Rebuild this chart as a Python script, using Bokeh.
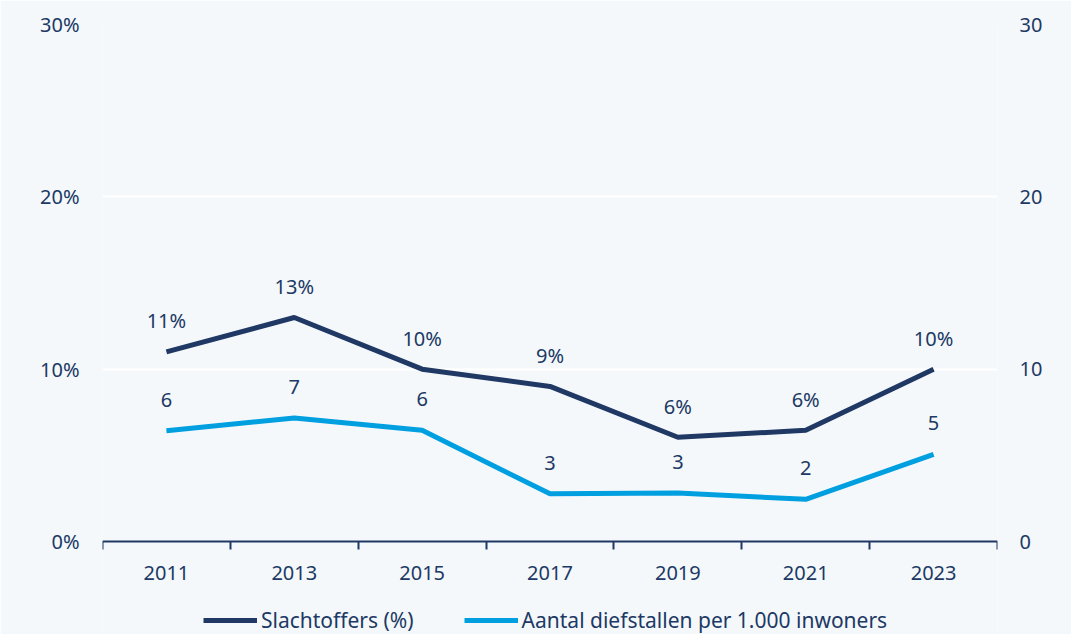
from bokeh.plotting import figure
from bokeh.models import (Range1d, LinearAxis, FixedTicker, Legend, LegendItem,
                          ColumnDataSource, PrintfTickFormatter)
from bokeh.core.properties import value
from bokeh.embed import file_html
from bokeh.resources import INLINE

years = ["2011", "2013", "2015", "2017", "2019", "2021", "2023"]
slachtoffers = [11.0, 13.0, 10.0, 9.0, 6.05, 6.45, 10.0]
diefstallen = [6.43, 7.17, 6.45, 2.77, 2.81, 2.45, 5.05]
y_ticks = [0, 10, 20, 30]

FONT = "Noto Sans"
NAVY = "#203864"
LIGHT = "#009fe0"
BG = "#f4f8fb"

# y range extends below zero to leave room for the legend inside the frame
Y_MIN = -93 / (517 / 30)

x = [i + 0.5 for i in range(len(years))]
src = ColumnDataSource(dict(
    x=x,
    s=slachtoffers,
    d=diefstallen,
    s_lab=[f"{round(v)}%" for v in slachtoffers],
    d_lab=[f"{round(v)}" for v in diefstallen],
))

p = figure(frame_width=895, frame_height=610, output_backend="svg", toolbar_location=None,
           x_range=Range1d(0, len(years)), y_range=Range1d(Y_MIN, 30),
           x_axis_location=None,
           min_border_left=102, min_border_right=74, min_border_top=24,
           min_border_bottom=0)
p.background_fill_color = BG
p.border_fill_color = BG
p.outline_line_color = None
p.extra_y_ranges = {"right": Range1d(Y_MIN, 30)}

# x axis at y=0: labels at centers, ticks at boundaries
xa = LinearAxis(fixed_location=0,
                ticker=FixedTicker(ticks=x, minor_ticks=list(range(len(years) + 1))))
xa.major_label_overrides = {xv: y for xv, y in zip(x, years)}
xa.major_tick_line_color = None
xa.major_tick_out = 8
xa.major_tick_in = 0
xa.major_label_standoff = 16
xa.minor_tick_line_color = NAVY
xa.minor_tick_line_width = 2
xa.minor_tick_out = 8
xa.minor_tick_in = 0
xa.axis_line_color = NAVY
xa.axis_line_width = 2
xa.major_label_text_color = NAVY
xa.major_label_text_font = FONT
xa.major_label_text_font_size = "20px"
p.add_layout(xa, "below")

ya = p.yaxis[0]
ya.ticker = FixedTicker(ticks=y_ticks)
ya.formatter = PrintfTickFormatter(format="%d%%")
ya.axis_line_color = None
ya.major_tick_line_color = None
ya.minor_tick_line_color = None
ya.major_label_standoff = 17
ya.major_label_text_color = NAVY
ya.major_label_text_font = FONT
ya.major_label_text_font_size = "20px"

ra = LinearAxis(y_range_name="right", ticker=FixedTicker(ticks=y_ticks))
ra.axis_line_color = None
ra.major_tick_line_color = None
ra.minor_tick_line_color = None
ra.major_label_standoff = 16
ra.major_label_text_color = NAVY
ra.major_label_text_font = FONT
ra.major_label_text_font_size = "20px"
p.add_layout(ra, "right")

p.xgrid.visible = False
p.ygrid.ticker = FixedTicker(ticks=[10, 20, 30])
p.ygrid.grid_line_color = "white"
p.ygrid.grid_line_width = 2

r1 = p.line("x", "s", source=src, line_color=NAVY, line_width=5)
r2 = p.line("x", "d", source=src, line_color=LIGHT, line_width=5)

for col, lab in (("s", "s_lab"), ("d", "d_lab")):
    p.text("x", col, text=lab, source=src, text_align="center",
           text_baseline="middle", y_offset=-31, text_color=NAVY,
           text_font=value(FONT), text_font_size="20px")

legend = Legend(items=[LegendItem(label="Slachtoffers (%)", renderers=[r1]),
                       LegendItem(label="Aantal diefstallen per 1.000 inwoners", renderers=[r2])],
                orientation="horizontal", location=(101, 0))
legend.background_fill_alpha = 0
legend.border_line_color = None
legend.label_text_color = NAVY
legend.label_text_font = FONT
legend.label_text_font_size = "21px"
legend.glyph_width = 54
legend.label_standoff = 4
legend.spacing = 50
legend.padding = 0
legend.margin = 0
p.add_layout(legend)

open("out.html", "w").write(file_html(p, INLINE))
